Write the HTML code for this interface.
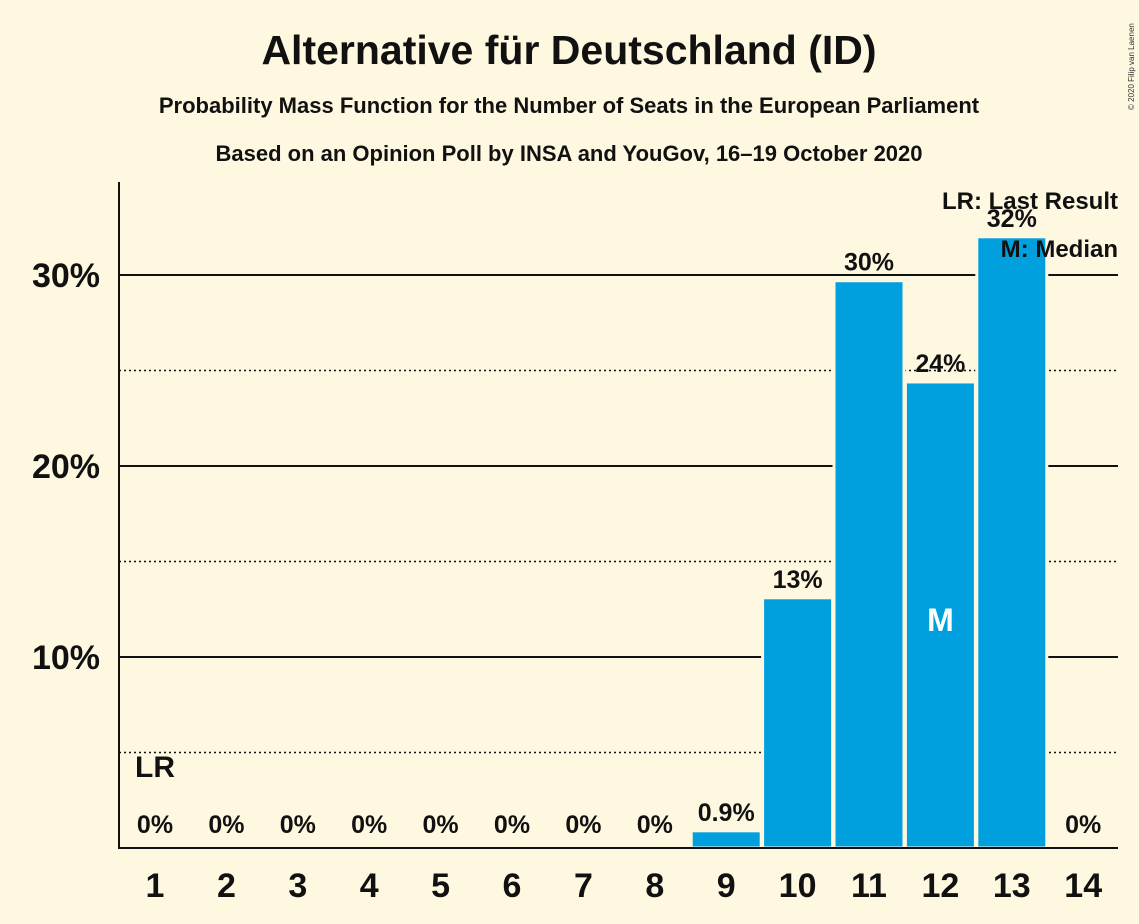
<!DOCTYPE html>
<html><head><meta charset="utf-8"><style>
body{margin:0;background:#fff8e1;}
svg{display:block;font-family:"Liberation Sans",sans-serif;font-weight:bold;}
</style></head><body>
<svg id="chart" width="1139" height="924">
<rect width="1139" height="924" fill="#fff8e1"/>
<text x="569" y="64" text-anchor="middle" font-size="41" fill="#111">Alternative für Deutschland (ID)</text>
<text x="569" y="113" text-anchor="middle" font-size="22" fill="#111">Probability Mass Function for the Number of Seats in the European Parliament</text>
<text x="569" y="161" text-anchor="middle" font-size="22" fill="#111">Based on an Opinion Poll by INSA and YouGov, 16–19 October 2020</text>
<text transform="translate(1134,110) rotate(-90)" font-size="8" font-weight="normal" fill="#333">© 2020 Filip van Laenen</text>
<g id="grid"></g>
<g id="bars"></g>
<g id="labels"></g>
<line x1="119" y1="182" x2="119" y2="848" stroke="#111" stroke-width="2"/>
<line x1="118" y1="848" x2="1118" y2="848" stroke="#111" stroke-width="2"/>
<text x="1118" y="209" text-anchor="end" font-size="24" fill="#111">LR: Last Result</text>
<text x="1118" y="257" text-anchor="end" font-size="24" fill="#111">M: Median</text>
</svg>
<script>
const seats=[1,2,3,4,5,6,7,8,9,10,11,12,13,14];
const probs=[0,0,0,0,0,0,0,0,0.9,13.1,29.7,24.4,32.0,0];
const valueLabels=["0%","0%","0%","0%","0%","0%","0%","0%","0.9%","13%","30%","24%","32%","0%"];
const yTicks=[10,20,30];
const yMinor=[5,15,25];
const lastResultSeat=1;
const medianSeat=12;
const NS="http://www.w3.org/2000/svg";
const x=s=>155+(s-1)*71.4;
const y=v=>848-v*19.1;
function mk(tag,attrs,parent,txt){const e=document.createElementNS(NS,tag);for(const k in attrs)e.setAttribute(k,attrs[k]);if(txt!==undefined)e.textContent=txt;parent.appendChild(e);return e;}
const grid=document.getElementById('grid'),bars=document.getElementById('bars'),labels=document.getElementById('labels');
yTicks.forEach(t=>{
 const l=mk('line',{x1:119,x2:1118,y1:y(t),y2:y(t),stroke:'#111','stroke-width':2},grid);
 
 
 const tx=mk('text',{x:100,y:y(t)+12,'text-anchor':'end','font-size':34,fill:'#111'},grid,t+'%');
 
 
});
yMinor.forEach(t=>{
 const l=mk('line',{x1:119,x2:1118,y1:y(t),y2:y(t),stroke:'#111','stroke-width':1.5,'stroke-dasharray':'2,3'},grid);
 
 
});
seats.forEach((s,i)=>{
 const v=probs[i];
 if(v>0){
  const r=mk('rect',{x:x(s)-35,y:y(v),width:70,height:848-y(v),fill:'#00a0df',stroke:'#fff8e1','stroke-width':3},bars);
  
  
 }
 const lab=mk('text',{x:x(s),y:(v>0?y(v)-10:833),'text-anchor':'middle','font-size':25,fill:'#111'},labels,valueLabels[i]);
 
 
 const xt=mk('text',{x:x(s),y:897,'text-anchor':'middle','font-size':34,fill:'#111'},labels,String(s));
 
 
});
const lr=mk('text',{x:x(lastResultSeat),y:777,'text-anchor':'middle','font-size':30,fill:'#111'},labels,'LR');


const m=mk('text',{x:x(medianSeat),y:631,'text-anchor':'middle','font-size':32,fill:'#fff'},labels,'M');


</script>
</body></html>
